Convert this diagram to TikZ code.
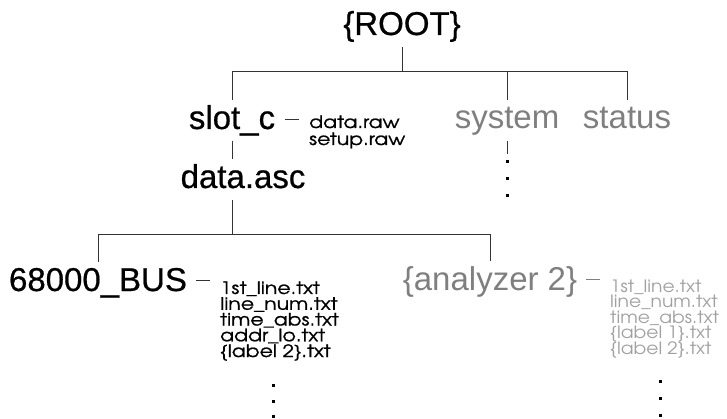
\documentclass[tikz,border=0pt]{standalone}
\usepackage{fontspec}
\newfontfamily\helvf{Liberation Sans}
\newfontfamily\helvbf[FakeBold=0.6]{Liberation Sans}
\newfontfamily\gothf[FakeStretch=1.1]{TeX Gyre Adventor}
\newfontfamily\gothbf[FakeStretch=1.2,FakeBold=0.9]{TeX Gyre Adventor}
\definecolor{linec}{HTML}{333333}
\definecolor{grayA}{HTML}{7F7F7F}
\definecolor{grayB}{HTML}{A0A0A0}
\begin{document}
\begin{tikzpicture}[x=1pt,y=-1pt,
  bigtxt/.style={font=\helvbf\fontsize{33}{36}\selectfont, inner sep=0pt,
    text height=24pt, text depth=7pt, outer ysep=5pt, anchor=base},
  graybig/.style={bigtxt, font=\helvf\fontsize{33}{36}\selectfont, text=grayA},
  smalltxt/.style={font=\gothbf\fontsize{17}{17}\selectfont, inner sep=0pt, anchor=base west},
  graysmall/.style={font=\gothf\fontsize{17}{17}\selectfont, inner sep=0pt, anchor=base west, text=grayB},
  conn/.style={draw=linec, line width=0.8pt},
  dotmark/.style={fill=black, minimum size=3pt, inner sep=0pt, rectangle},
]
\useasboundingbox (0,0) rectangle (727,419);

% top level
\node[bigtxt] (root) at (402,35) {\{ROOT\}};
\node[bigtxt] (slot) at (232,129) {slot\_c};
\node[graybig] (system) at (507,129) {system};
\node[graybig] (status) at (627,129) {status};
\coordinate (j1) at (402,71);
\draw[conn] (root.south) -- (j1);
\draw[conn] (j1) -| (slot.north);
\draw[conn] (j1) -| (system.north);
\draw[conn] (j1) -| (status.north);

% slot_c files
\node[smalltxt] (raw1) at (309,128) {data.raw};
\node[smalltxt] (raw2) at (309,145) {setup.raw};
\draw[conn] ([shift={(10pt,10pt)}]slot.base east) -- ++(14,0);

% system continuation
\coordinate (sysend) at (507,154);
\draw[conn] (system.south) -- (sysend);
\node[dotmark] (sd1) at (507,162) {};
\node[dotmark] (sd2) at (507,179) {};
\node[dotmark] (sd3) at (507,196) {};

% data.asc
\node[bigtxt] (dasc) at (243,188) {data.asc};
\draw[conn] (slot.south) -- (slot.south |- dasc.north);

\node[bigtxt] (bus) at (98,291) {68000\_BUS};
\node[graybig] (ana) at (490,290) {\{analyzer 2\}};
\coordinate (j2) at (232,234);
\draw[conn] (slot.south |- dasc.south) -- (j2);
\draw[conn] (j2) -| (bus.north);
\draw[conn] (j2) -| (ana.north);

% bus files
\draw[conn] ([shift={(9pt,11pt)}]bus.base east) -- ++(14,0);
\foreach \t [count=\i] in {1st\_line.txt, line\_num.txt, time\_abs.txt, addr\_lo.txt, \{label 2\}.txt}
  \node[smalltxt] (bl\i) at (220,{294+15.75*(\i-1)}) {\t};
\node[dotmark] (bd1) at (273,385) {};
\node[dotmark] (bd2) at (273,401) {};
\node[dotmark] (bd3) at (273,416) {};

% analyzer files
\draw[conn, draw=grayA] ([shift={(9pt,11pt)}]ana.base east) -- ++(14,0);
\foreach \t [count=\i] in {1st\_line.txt, line\_num.txt, time\_abs.txt, \{label 1\}.txt, \{label 2\}.txt}
  \node[graysmall] (gl\i) at (610,{292+15.6*(\i-1)}) {\t};
\node[dotmark] (gd1) at (660,381) {};
\node[dotmark] (gd2) at (660,398) {};
\node[dotmark] (gd3) at (660,415) {};
\end{tikzpicture}
\end{document}
